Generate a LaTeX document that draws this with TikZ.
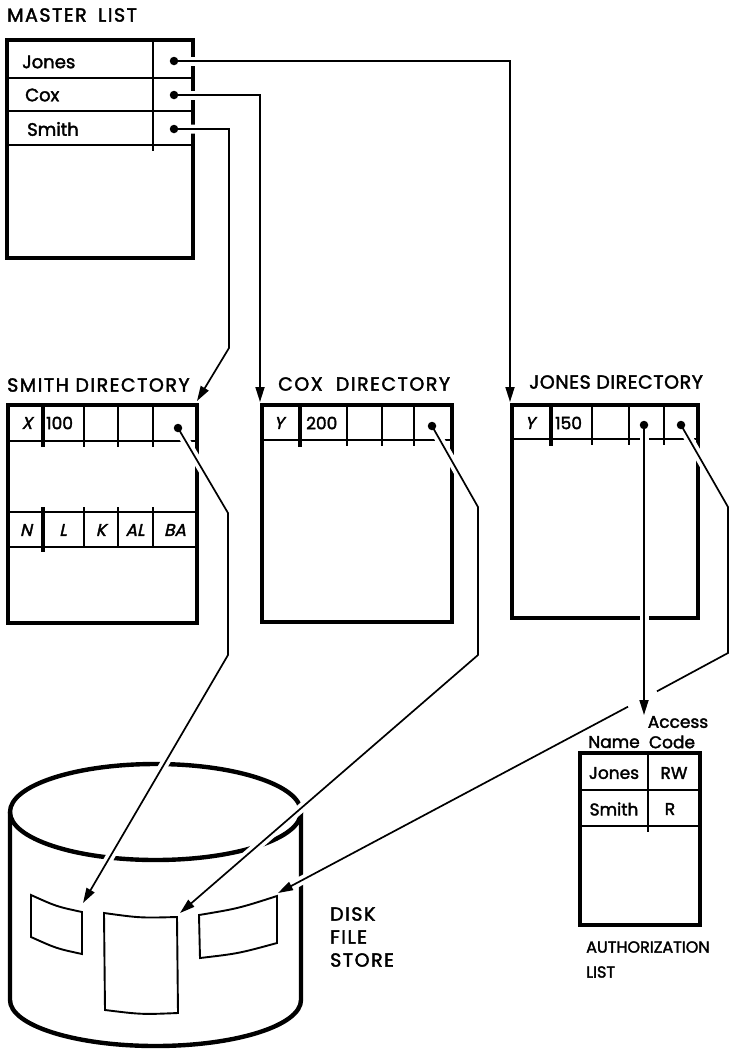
\documentclass[tikz,border=0pt]{standalone}
\usepackage{fontspec}
\setmainfont{Poppins}[FakeBold=2]
\newfontfamily\labfont{Poppins}[FakeBold=2, LetterSpace=8]
\newfontfamily\labnarrowfont{Poppins}[FakeBold=2, LetterSpace=3]
\newfontfamily\slantfont{Poppins}[FakeSlant=0.22, FakeBold=2]
\usetikzlibrary{arrows.meta}
\begin{document}
\begin{tikzpicture}[x=1pt,y=-1pt,
  boxline/.style={line width=4.4pt},
  thinline/.style={line width=1.9pt},
  conn/.style={line width=1.7pt, preaction={draw=white, line width=9pt, arrows=-, shorten >=15pt, shorten <=6pt}},
  arr/.style={-{Triangle[length=15pt,width=9pt]}},
  dotm/.style={circle, fill=black, inner sep=0pt, minimum size=8.5pt},
  lab/.style={font=\fontsize{19}{23}\labfont, inner sep=0pt},
  cell/.style={font=\fontsize{17}{20}\selectfont, inner sep=0pt},
  icell/.style={font=\fontsize{17}{20}\slantfont, inner sep=0pt}]
\fill[white] (0,0) rectangle (731,1050);
\useasboundingbox (0,0) rectangle (731,1050);

% ---------- master list ----------
\draw[boxline] (7,40) rectangle (193,258);
\draw[thinline] (7,78) -- (193,78) (7,111) -- (193,111) (7,145) -- (193,145);
\draw[thinline] (153,40) -- (153,151);

% ---------- Smith directory ----------
\draw[boxline] (8,405) rectangle (197,623);
\draw[thinline] (8,441) -- (197,441) (8,512) -- (197,512) (8,547) -- (197,547);
\draw[boxline] (43,405) -- (43,447) (43,507) -- (43,552);
\draw[thinline] (84,405) -- (84,447) (118,405) -- (118,447) (153,405) -- (153,447);
\draw[thinline] (84,507) -- (84,548) (118,507) -- (118,548) (153,507) -- (153,548);

% ---------- Cox directory ----------
\draw[boxline] (262,405) rectangle (452,622);
\draw[thinline] (262,440) -- (452,440);
\draw[boxline] (300,405) -- (300,447);
\draw[thinline] (347,405) -- (347,446) (382,405) -- (382,446) (414,405) -- (414,446);

% ---------- Jones directory ----------
\draw[boxline] (512,405) rectangle (698,618);
\draw[thinline] (512,439) -- (698,439);
\draw[boxline] (551,405) -- (551,446);
\draw[thinline] (592,405) -- (592,445) (629,405) -- (629,445) (664,405) -- (664,445);

% ---------- authorization list ----------
\draw[boxline] (580,753) rectangle (700,925);
\draw[thinline] (580,790) -- (700,790) (580,826) -- (700,826);
\draw[thinline] (648,753) -- (648,832);

% ---------- disk ----------
\draw[boxline] (155.5,812) ellipse [x radius=145.5, y radius=48];
\draw[boxline] (10,812) -- (10,1000) arc[start angle=180, end angle=0, x radius=145.5, y radius=46] -- (301,812);

% ---------- coordinates ----------
\coordinate (mj) at (174,61);
\coordinate (mc) at (174,95);
\coordinate (ms) at (174,129);
\coordinate (mjk) at (510,61);
\coordinate (mck) at (260,95);
\coordinate (msk1) at (229,129);
\coordinate (msk2) at (229,348);
\coordinate (jdirtip) at (510,402);
\coordinate (cdirtip) at (260,402);
\coordinate (sdirtip) at (197,401);
\coordinate (sd) at (178,428);
\coordinate (sdk1) at (228,513);
\coordinate (sdk2) at (228,655);
\coordinate (swin) at (83,903);
\coordinate (cd) at (432,426);
\coordinate (cdk1) at (478,507);
\coordinate (cdk2) at (478,655);
\coordinate (cwin) at (180,913);
\coordinate (jd1) at (644,425);
\coordinate (authtip) at (644,715);
\coordinate (jd2) at (681,425);
\coordinate (jdk1) at (728,507);
\coordinate (jdk2) at (728,653);
\coordinate (jgapA) at (657,691.3);
\coordinate (jgapB) at (628,706.7);
\coordinate (jwin) at (278,893);

% ---------- connectors ----------
\draw[conn,arr] (mj) -- (mjk) -- (jdirtip);
\draw[conn,arr] (mc) -- (mck) -- (cdirtip);
\draw[conn,arr] (ms) -- (msk1) -- (msk2) -- (sdirtip);
\draw[conn,arr] (sd) -- (sdk1) -- (sdk2) -- (swin);
\draw[conn,arr] (cd) -- (cdk1) -- (cdk2) -- (cwin);
\draw[conn] (jd2) -- (jdk1) -- (jdk2) -- (jgapA);
\draw[conn,arr] (jgapB) -- (jwin);
\draw[conn,arr] (jd1) -- (authtip);

% ---------- dots ----------
\foreach \p in {mj,mc,ms,sd,cd,jd1,jd2} \node[dotm] at (\p) {};

% ---------- disk windows ----------
\draw[thinline] (31,895) .. controls (56.5,906.5) .. (82,912) -- (82,954) .. controls (56.5,948.5) .. (31,937) -- cycle;
\draw[thinline] (104,913) .. controls (140.5,918) .. (177,917) -- (178,1013) .. controls (141.5,1014.5) .. (105,1010) -- cycle;
\draw[thinline] (199,915) .. controls (238,908.5) .. (277,896) -- (277,943) .. controls (238.5,953.5) .. (200,958) -- cycle;

% ---------- texts ----------
\node[lab, anchor=west] (tmaster) at (7,15) {MASTER\hspace{0.6em}LIST};
\node[cell, font=\fontsize{18}{20}\selectfont, anchor=west] (tjones) at (22,62) {Jones};
\node[cell, font=\fontsize{18}{20}\selectfont, anchor=west] (tcox) at (25,95) {Cox};
\node[cell, font=\fontsize{18}{20}\selectfont, anchor=west] (tsmith) at (27,129) {Smith};

\node[lab, anchor=west] (tsdir) at (7,385) {SMITH DIRECTORY};
\node[lab, anchor=west] (tcdir) at (278,384) {COX\hspace{0.7em}DIRECTORY};
\node[lab, font=\fontsize{19}{23}\labnarrowfont, anchor=west] (tjdir) at (529,382) {JONES DIRECTORY};

\node[icell] (sx) at (27,423) {X};
\node[cell, anchor=west] (s100) at (46,423) {100};
\node[icell] (cy) at (279,423) {Y};
\node[cell, anchor=west] (c200) at (306,423) {200};
\node[icell] (jy) at (530,423) {Y};
\node[cell, anchor=west] (j150) at (555,423) {150};

\node[icell] (sn) at (26,530) {N};
\node[icell] (sl) at (63,530) {L};
\node[icell] (sk) at (101,530) {K};
\node[icell] (sal) at (135,530) {AL};
\node[icell] (sba) at (175,530) {BA};

\node[cell] (taccess) at (678,722) {Access};
\node[cell] (tname) at (614,742) {Name};
\node[cell] (tcode) at (672,742) {Code};
\node[cell] (ajones) at (614,773) {Jones};
\node[cell] (arw) at (674,773) {RW};
\node[cell] (asmith) at (614,809) {Smith};
\node[cell] (ar) at (670,809) {R};
\node[cell, font=\fontsize{16}{20}\selectfont, anchor=west] (tauth) at (586,947) {AUTHORIZATION};
\node[cell, font=\fontsize{16}{20}\selectfont, anchor=west] (tlist) at (586,972) {LIST};

\node[lab, anchor=west] (tdisk) at (330,914) {DISK};
\node[lab, anchor=west] (tfile) at (330,937) {FILE};
\node[lab, anchor=west] (tstore) at (330,960) {STORE};
\end{tikzpicture}
\end{document}
